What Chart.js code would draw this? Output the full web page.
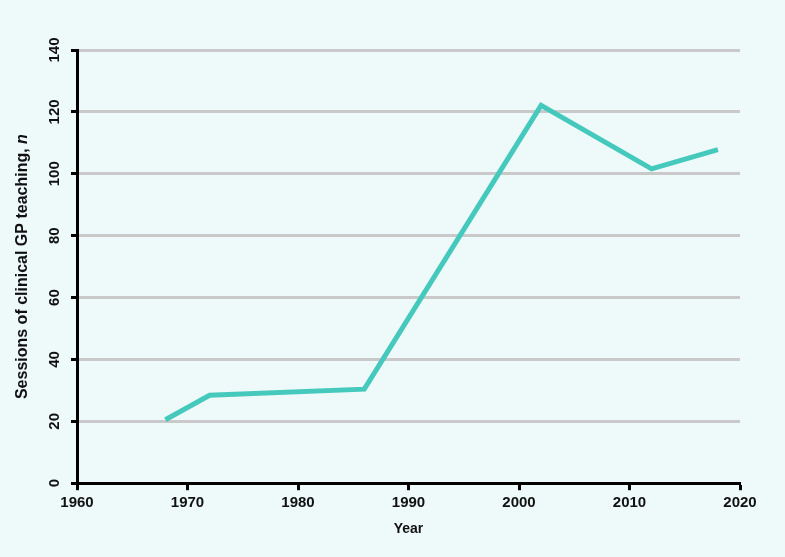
<!DOCTYPE html>
<html>
<head>
<meta charset="utf-8">
<script src="https://cdn.jsdelivr.net/npm/chart.js@4"></script>
<style>
  html, body { margin: 0; padding: 0; background: #eef9f9; }
  #wrap { width: 785px; height: 557px; }
</style>
</head>
<body>
<div id="wrap"><canvas id="gpChart"></canvas></div>
<script>
// Données
const years = [1968, 1972, 1986, 2002, 2012, 2018];
const sessions = [20.5, 28.4, 30.4, 122.1, 101.6, 107.8];
const xTicks = [1960, 1970, 1980, 1990, 2000, 2010, 2020];
const yTicks = [0, 20, 40, 60, 80, 100, 120, 140];

const FONT = '"Liberation Sans", Arial, sans-serif';

// Titre de l'axe Y avec le "n" en italique
const yTitlePlugin = {
    id: 'yTitle',
    afterDraw(chart) {
        const { ctx, chartArea } = chart;
        const main = 'Sessions of clinical GP teaching, ';
        const ital = 'n';
        ctx.save();
        ctx.fillStyle = '#111';
        ctx.textBaseline = 'middle';
        ctx.font = 'bold 16px ' + FONT;
        const w1 = ctx.measureText(main).width;
        ctx.font = 'italic bold 16px ' + FONT;
        const w2 = ctx.measureText(ital).width;
        const cy = (chartArea.top + chartArea.bottom) / 2;
        ctx.translate(23, cy);
        ctx.rotate(-Math.PI / 2);
        const start = -(w1 + w2) / 2;
        ctx.textAlign = 'left';
        ctx.font = 'bold 16px ' + FONT;
        ctx.fillText(main, start, 0);
        ctx.font = 'italic bold 16px ' + FONT;
        ctx.fillText(ital, start + w1, 0);
        ctx.restore();
    }
};

const ctx = document.getElementById('gpChart').getContext('2d');
new Chart(ctx, {
    type: 'line',
    data: {
        datasets: [{
            data: years.map((y, i) => ({ x: y, y: sessions[i] })),
            borderColor: '#45c9bd',
            borderWidth: 5,
            pointRadius: 0,
            fill: false,
            tension: 0
        }]
    },
    options: {
        responsive: true,
        maintainAspectRatio: false,
        animation: false,
        layout: { padding: { left: 45, right: 45, top: 50, bottom: 19 } },
        plugins: { legend: { display: false }, tooltip: { enabled: false } },
        scales: {
            x: {
                type: 'linear',
                min: 1960,
                max: 2020,
                afterBuildTicks: axis => { axis.ticks = xTicks.map(v => ({ value: v })); },
                grid: { drawOnChartArea: false, tickColor: '#000', tickLength: 7, tickWidth: 3 },
                border: { color: '#000', width: 3 },
                ticks: {
                    color: '#111',
                    padding: 4,
                    maxRotation: 0,
                    font: { family: FONT, size: 15, weight: 'bold' },
                    callback: v => String(v)
                },
                title: {
                    display: true,
                    text: 'Year',
                    color: '#111',
                    padding: { top: 5, bottom: 0 },
                    font: { family: FONT, size: 14, weight: 'bold' }
                }
            },
            y: {
                min: 0,
                max: 140,
                afterBuildTicks: axis => { axis.ticks = yTicks.map(v => ({ value: v })); },
                grid: { color: '#c9c9c9', lineWidth: 3, tickColor: '#000', tickLength: 6, tickWidth: 3 },
                border: { color: '#000', width: 3 },
                ticks: {
                    color: '#111',
                    padding: 4,
                    minRotation: 90,
                    maxRotation: 90,
                    crossAlign: 'center',
                    font: { family: FONT, size: 15, weight: 'bold' }
                }
            }
        }
    },
    plugins: [yTitlePlugin]
});
</script>
</body>
</html>
